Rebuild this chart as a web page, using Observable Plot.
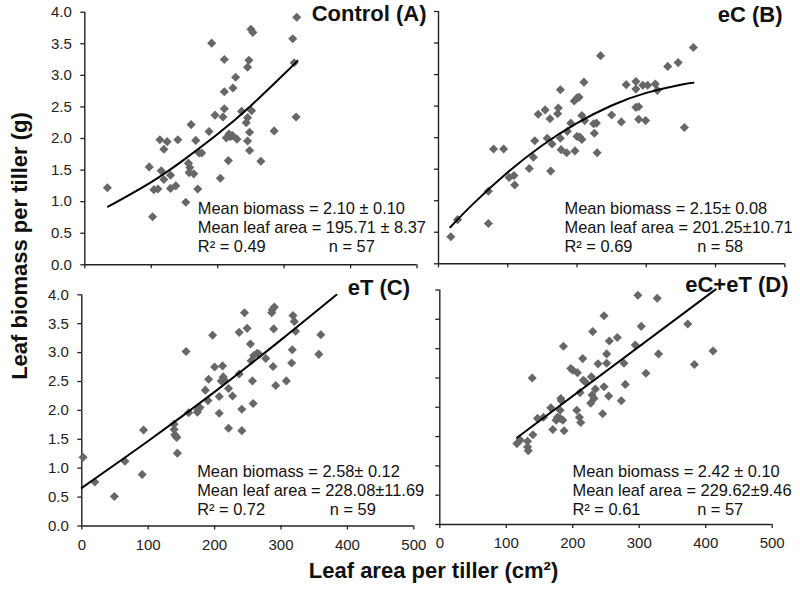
<!DOCTYPE html>
<html>
<head>
<meta charset="utf-8">
<script src="https://cdn.jsdelivr.net/npm/d3@7"></script>
<script src="https://cdn.jsdelivr.net/npm/@observablehq/plot@0.6"></script>
<style>
  html, body { margin: 0; padding: 0; background: #fff; }
  #root { position: relative; width: 800px; height: 590px; overflow: hidden; font-family: Arial, "Liberation Sans", sans-serif; }
  .panel { position: absolute; }
  .lab { position: absolute; font-weight: bold; font-size: 22px; line-height: 22px; white-space: nowrap; color: #111; }
</style>
</head>
<body>
<div id="root"></div>
<script>
// ---------- data ----------
const xTicks = [0, 100, 200, 300, 400, 500];
const yTicks = [0, 0.5, 1, 1.5, 2, 2.5, 3, 3.5, 4];

// Control (A)
const ctrlArea = [34,102,97,104,110,113,115,119,119,124,129,129,137,140,152,156,158,157,160,167,170,172,176,187,191,196,204,208,210,210,210,213,216,217,222,223,227,229,236,243,245,245,245,247,248,248,250,253,251,265,285,313,315,318,319,219,164];
const ctrlBiomass = [1.22,0.76,1.55,1.19,1.20,1.98,1.49,1.83,1.35,1.95,1.42,1.21,1.25,1.98,0.99,1.61,1.54,1.46,2.22,1.97,1.20,1.77,1.77,2.11,3.51,2.37,1.37,2.34,2.47,2.74,3.25,2.01,1.65,2.07,2.05,2.80,2.97,1.99,2.43,2.25,2.33,1.96,3.13,3.24,1.81,2.10,3.73,3.68,2.44,1.64,2.12,3.58,3.20,2.34,3.92,2.03,1.44];
const ctrlFitArea = [35, 100, 150, 200, 250, 300, 320];
const ctrlFitBiomass = [0.92, 1.31, 1.67, 2.07, 2.52, 3.02, 3.23];

// eC (B)
const ecArea = [17.8,27.5,72,72,79.5,94,102,109,110,131,137,139,144,154,161,162,157,164,172,173,176,176,177,185,186,191,197,196,200,203,200,204,207,207,210,211,224,225,228,229,234,250,264,271,285,285,285,289,289,299,295,302,313,316,331,346,355,368];
const ecBiomass = [0.43,0.70,0.64,1.15,1.82,1.82,1.37,1.40,1.25,1.51,1.69,1.95,2.37,2.44,2.30,1.47,1.99,1.90,2.38,2.47,2.76,1.99,1.81,1.76,2.10,2.23,1.79,2.58,2.63,2.64,2.02,2.01,1.97,2.35,2.88,2.27,2.22,2.07,2.23,1.76,3.30,2.36,2.25,2.84,2.89,2.77,2.48,2.49,2.29,2.27,2.83,2.83,2.85,2.75,3.13,3.19,2.16,3.43];
const ecFitArea = [17, 50, 100, 150, 200, 250, 300, 350, 368];
const ecFitBiomass = [0.58, 0.95, 1.45, 1.88, 2.23, 2.51, 2.71, 2.84, 2.87];

// eT (C)
const etArea = [2,19.6,49,65,91,93,139,139,140,142,143,144,157,161,174,175,178,186,190,191,197,200,207,207,210,212,213,215,221,221,227,237,237,241,241,245,249,254,255,257,258,264,267,277,286,288,289,290,292,308,316,317,318,320,322,357,360,287,259];
const etBiomass = [1.19,0.76,0.51,1.12,0.89,1.66,1.76,1.67,1.58,1.55,1.53,1.26,3.02,1.96,1.97,2.01,2.05,2.35,2.17,2.54,3.30,2.75,2.24,1.95,2.51,2.77,2.58,2.52,2.38,1.69,2.25,2.63,3.35,2.02,1.65,3.69,3.42,3.15,2.86,2.51,2.12,2.99,2.97,2.90,3.69,2.76,3.41,3.79,2.43,2.51,2.82,3.05,3.64,3.54,3.37,2.97,3.31,3.74,2.95];
const etFitArea = [0, 100, 200, 300, 383.5];
const etFitBiomass = [0.66, 1.47, 2.32, 3.22, 4.0];

// eC+eT (D)
const ecetArea = [116,121,132,132,133,140,139,147,156,170,167,175,177,181,182,183,181,185,187,186,197,200,207,206,210,212,211,215,216,219,227,228,229,230,232,234,238,245,247,247,251,251,254,255,267,273,277,279,294,298,303,310,327,329,373,383,411];
const ecetBiomass = [1.38,1.44,1.42,1.32,1.26,1.53,2.50,1.81,1.83,1.62,1.99,1.78,1.83,1.95,2.15,2.11,1.81,1.78,1.60,3.04,2.66,2.63,2.59,1.95,1.83,1.74,2.25,2.83,2.46,2.43,2.07,2.52,2.21,3.29,2.15,2.31,2.74,1.89,2.35,3.56,2.91,2.75,2.19,3.13,3.19,2.11,2.75,2.39,3.06,3.91,3.38,2.58,3.86,2.91,3.42,2.73,2.96];
const ecetFitArea = [116, 415];
const ecetFitBiomass = [1.48, 4.01];

// panel texts
const panelTitles = ["Control (A)", "eC (B)", "eT (C)", "eC+eT (D)"];
const biomassLines = ["Mean biomass = 2.10 ± 0.10", "Mean biomass = 2.15± 0.08", "Mean biomass = 2.58± 0.12", "Mean biomass = 2.42 ± 0.10"];
const leafAreaLines = ["Mean leaf area = 195.71 ± 8.37", "Mean leaf area = 201.25±10.71", "Mean leaf area = 228.08±11.69", "Mean leaf area = 229.62±9.46"];
const r2Lines = ["R² = 0.49", "R² = 0.69", "R² = 0.72", "R² = 0.61"];
const nLines = ["n = 57", "n = 58", "n = 59", "n = 57"];
const xAxisTitle = "Leaf area per tiller (cm²)";
const yAxisTitle = "Leaf biomass per tiller (g)";

// ---------- layout (page pixel coordinates) ----------
const layouts = [
  {left: 0,   top: 0,   width: 435, height: 275, x0: 84.3,  x1: 416.5, y0: 11.7,  y1: 264.3, xLab: false, yLab: true,
   titleEnd: 426, titleBase: 20.5, tx: 197.3, nx: 328.3, base: [213.7, 232.3, 251.7]},
  {left: 430, top: 0,   width: 370, height: 275, x0: 438,   x1: 784.3, y0: 11,    y1: 263.3, xLab: false, yLab: false,
   titleEnd: 782, titleBase: 21.7, tx: 564, nx: 696.7, base: [213.7, 232.3, 251.7]},
  {left: 0,   top: 275, width: 435, height: 315, x0: 81.3,  x1: 413.3, y0: 294.3, y1: 525.5, xLab: true,  yLab: true,
   titleEnd: 409.5, titleBase: 294.5, tx: 196.7, nx: 329.3, base: [476, 495, 514.3]},
  {left: 430, top: 275, width: 370, height: 315, x0: 439.3, x1: 771.7, y0: 289.5, y1: 524,   xLab: true,  yLab: false,
   titleEnd: 788, titleBase: 291.7, tx: 572, nx: 696.7, base: [476, 495, 514.3]}
];

const series = [
  {area: ctrlArea, biomass: ctrlBiomass, fitA: ctrlFitArea, fitB: ctrlFitBiomass},
  {area: ecArea, biomass: ecBiomass, fitA: ecFitArea, fitB: ecFitBiomass},
  {area: etArea, biomass: etBiomass, fitA: etFitArea, fitB: etFitBiomass},
  {area: ecetArea, biomass: ecetBiomass, fitA: ecetFitArea, fitB: ecetFitBiomass}
];

const FONT = 'Arial, "Liberation Sans", sans-serif';
const root = document.getElementById("root");

series.forEach((s, i) => {
  const L = layouts[i];
  const pts = s.area.map((a, k) => ({a, b: s.biomass[k]}));
  const fit = s.fitA.map((a, k) => ({a, b: s.fitB[k]}));
  const annot = (txt, x, y) => Plot.text([txt], {
    text: d => d, frameAnchor: "top-left", dx: x - L.x0, dy: y - L.y0,
    textAnchor: "start", lineAnchor: "bottom", fontSize: 16.4, fill: "#111"
  });
  const chart = Plot.plot({
    width: L.width, height: L.height,
    marginLeft: L.x0 - L.left, marginRight: L.left + L.width - L.x1,
    marginTop: L.y0 - L.top, marginBottom: L.top + L.height - L.y1,
    style: {fontFamily: FONT, background: "transparent", overflow: "visible", color: "#222"},
    x: {domain: [0, 500]},
    y: {domain: [0, 4]},
    marks: [
      Plot.axisX(xTicks, {tickSize: 4, tickPadding: 9, fontSize: 15, strokeWidth: 1.3, stroke: "#222", fill: "#222",
        tickFormat: L.xLab ? d => String(d) : () => "", label: null}),
      Plot.axisY(yTicks, {tickSize: 4, tickPadding: 9, fontSize: 15, strokeWidth: 1.3, stroke: "#222", fill: "#222",
        tickFormat: L.yLab ? d3.format(".1f") : () => "", label: null}),
      Plot.ruleY([0], {stroke: "#222", strokeWidth: 1.4}),
      Plot.ruleX([0], {stroke: "#222", strokeWidth: 1.4}),
      Plot.dot(pts, {x: "a", y: "b", symbol: "diamond2", r: 4.1, fill: "#676767", stroke: "none"}),
      Plot.line(fit, {x: "a", y: "b", curve: "natural", stroke: "#000", strokeWidth: 2}),
      Plot.text([panelTitles[i]], {text: d => d, frameAnchor: "top-right", dx: L.titleEnd - L.x1, dy: L.titleBase - L.y0,
        textAnchor: "end", lineAnchor: "bottom", fontSize: 22, fontWeight: "bold", fill: "#111"}),
      annot(biomassLines[i], L.tx, L.base[0]),
      annot(leafAreaLines[i], L.tx, L.base[1]),
      annot(r2Lines[i], L.tx, L.base[2]),
      annot(nLines[i], L.nx, L.base[2])
    ]
  });
  chart.classList.add("panel");
  chart.style.left = L.left + "px";
  chart.style.top = L.top + "px";
  root.appendChild(chart);
});

// axis titles
const xl = document.createElement("div");
xl.className = "lab";
xl.textContent = xAxisTitle;
xl.style.left = "433.5px";
xl.style.top = (579 - 18.6) + "px";
xl.style.transform = "translateX(-50%)";
root.appendChild(xl);

const yl = document.createElement("div");
yl.className = "lab";
yl.textContent = yAxisTitle;
yl.style.left = "28px";
yl.style.top = "246px";
yl.style.transformOrigin = "0 0";
yl.style.transform = "rotate(-90deg) translate(-50%, -18.6px)";
root.appendChild(yl);
</script>
</body>
</html>
